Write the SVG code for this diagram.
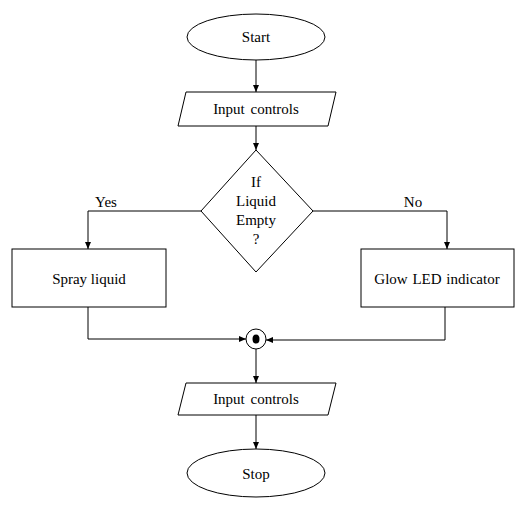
<svg xmlns="http://www.w3.org/2000/svg" width="523" height="505" viewBox="0 0 523 505">
<style>
.s{fill:#fff;stroke:#000;stroke-width:1}
.t{font-family:"Liberation Serif","Times New Roman",serif;font-size:15px;fill:#000;text-anchor:middle}
.c{fill:none;stroke:#000;stroke-width:1}
</style>
<defs>
<marker id="a" markerWidth="8" markerHeight="8" refX="7" refY="4" orient="auto" markerUnits="userSpaceOnUse">
<path d="M0,1 L7,4 L0,7 Z" fill="#000"/>
</marker>
</defs>
<rect width="523" height="505" fill="#fff"/>
<g id="connectors">
<line class="c" x1="256" y1="60" x2="256" y2="92" marker-end="url(#a)"/>
<line class="c" x1="256" y1="126" x2="256" y2="150" marker-end="url(#a)"/>
<polyline class="c" points="201,211 88,211 88,249" marker-end="url(#a)"/>
<polyline class="c" points="313,211 447,211 447,249" marker-end="url(#a)"/>
<polyline class="c" points="88,307 88,339 246,339" marker-end="url(#a)"/>
<polyline class="c" points="445,307 445,340 266,340" marker-end="url(#a)"/>
<line class="c" x1="256" y1="349" x2="256" y2="383" marker-end="url(#a)"/>
<line class="c" x1="256" y1="415" x2="256" y2="449" marker-end="url(#a)"/>
<text class="t" x="106" y="207">Yes</text>
<text class="t" x="413" y="207">No</text>
</g>
<g id="start">
<ellipse class="s" cx="256" cy="37" rx="69" ry="23"/>
<text class="t" x="256" y="42">Start</text>
</g>
<g id="input1">
<polygon class="s" points="186,92 336,92 328,126 178,126"/>
<text class="t" x="256" y="114" word-spacing="2">Input controls</text>
</g>
<g id="decision">
<polygon class="s" points="256,150 313,211 256,272 201,211"/>
<text class="t" x="256" y="187">If</text>
<text class="t" x="256" y="206">Liquid</text>
<text class="t" x="256" y="225">Empty</text>
<text class="t" x="256" y="244">?</text>
</g>
<g id="spray">
<rect class="s" x="12" y="249" width="154" height="58"/>
<text class="t" x="89" y="284">Spray liquid</text>
</g>
<g id="glow">
<rect class="s" x="361" y="249" width="153" height="58"/>
<text class="t" x="437" y="284" word-spacing="1">Glow LED indicator</text>
</g>
<g id="join">
<circle class="s" cx="256" cy="339" r="10"/>
<ellipse cx="256" cy="339" rx="3.5" ry="4.5" fill="#000"/>
</g>
<g id="input2">
<polygon class="s" points="186,383 336,383 328,415 178,415"/>
<text class="t" x="256" y="404" word-spacing="2">Input controls</text>
</g>
<g id="stop">
<ellipse class="s" cx="256" cy="473" rx="69" ry="24"/>
<text class="t" x="256" y="479">Stop</text>
</g>
</svg>
